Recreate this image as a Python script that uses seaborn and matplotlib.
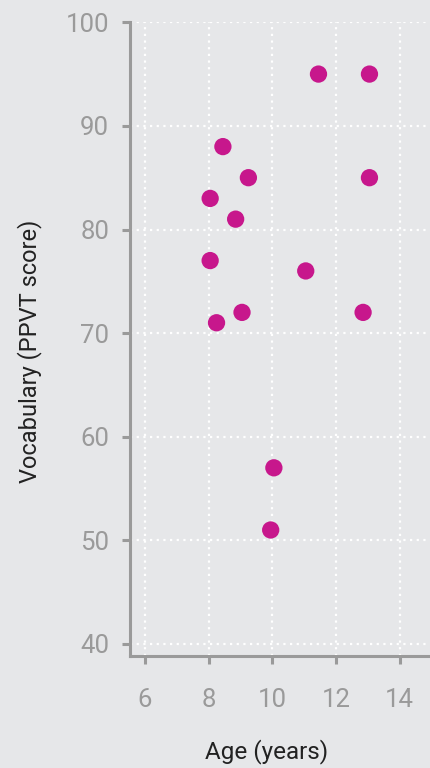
import matplotlib
matplotlib.use("Agg")
import matplotlib.pyplot as plt
import seaborn as sns
import pandas as pd

# Dados
idade = [11.45, 13.05, 8.45, 9.25, 13.05, 8.05, 8.85, 8.05, 11.05, 8.25, 9.05, 12.85, 10.05, 9.95]
vocabulario = [95, 95, 88, 85, 85, 83, 81, 77, 76, 71, 72, 72, 57, 51]
x_ticks = [6, 8, 10, 12, 14]
y_ticks = [40, 50, 60, 70, 80, 90, 100]

BG = "#e6e7e9"
COR_PONTO = "#c7178c"
CINZA = "#9a9a9a"

df = pd.DataFrame({"idade": idade, "vocab": vocabulario})

sns.set_style("white")
plt.rcParams["font.family"] = ["Roboto", "DejaVu Sans"]

fig = plt.figure(figsize=(4.3, 7.68), dpi=100, facecolor=BG)
ax = fig.add_axes([0.302, 0.146, 0.698, 0.825])
ax.set_facecolor(BG)

ax.grid(True, color="white", linestyle=(0, (1, 2)), linewidth=1.6)
ax.set_axisbelow(True)

sns.scatterplot(data=df, x="idade", y="vocab", color=COR_PONTO, s=155,
                edgecolor="none", ax=ax, zorder=3, clip_on=False)

ax.set_xlim(5.53, 14.95)
ax.set_ylim(38.85, 100)
ax.set_xticks(x_ticks)
ax.set_yticks(y_ticks)

for lado in ["top", "right"]:
    ax.spines[lado].set_visible(False)
for lado in ["left", "bottom"]:
    ax.spines[lado].set_color(CINZA)
    ax.spines[lado].set_linewidth(2.2)

ax.tick_params(axis="both", bottom=True, left=True, colors=CINZA,
               labelcolor=CINZA, labelsize=18.5, length=6, width=2.2,
               direction="out", pad=9)
ax.tick_params(axis="x", pad=17)

ax.set_xlabel("Age (years)", fontsize=17.5, color="#222222", va="center")
ax.set_ylabel("Vocabulary (PPVT score)", fontsize=17, color="#222222", va="center")
ax.xaxis.set_label_coords(0.457, -0.151)
ax.yaxis.set_label_coords(-0.333, 0.481)

fig.savefig("out.png", dpi=100, facecolor=BG)
